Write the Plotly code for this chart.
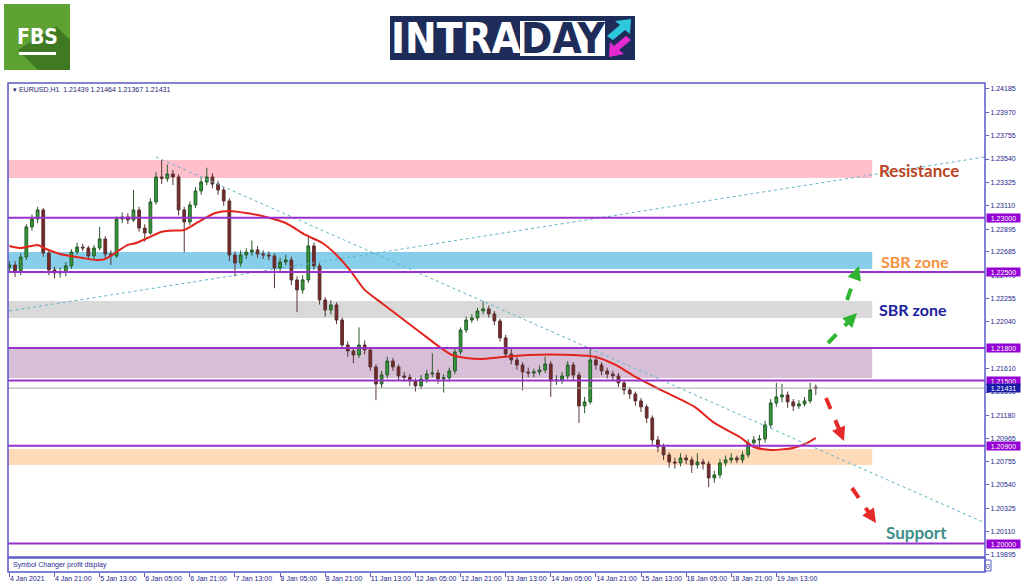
import plotly.graph_objects as go

W, H = 1024, 587


def PX(x):
    return x / W


def PY(y):
    return 1 - y / H


# ---------------- data (EURUSD, 2-hour candles on the hourly bar grid) ----------------
candle_bars = list(range(0, 288, 2))

opens = [1.22540, 1.22565, 1.22509, 1.22638, 1.22915, 1.22988, 1.23071, 1.22675, 1.22519, 1.22491,
         1.22500, 1.22556, 1.22684, 1.22730, 1.22721, 1.22648, 1.22721, 1.22804, 1.22666, 1.22648,
         1.22988, 1.23007, 1.22979, 1.23071, 1.22905, 1.22859, 1.23145, 1.23375, 1.23360, 1.23402,
         1.23375, 1.23071, 1.22961, 1.23117, 1.23246, 1.23329, 1.23375, 1.23310, 1.23255, 1.23154,
         1.22657, 1.22583, 1.22657, 1.22684, 1.22703, 1.22666, 1.22657, 1.22648, 1.22537, 1.22592,
         1.22611, 1.22427, 1.22335, 1.22427, 1.22740, 1.22556, 1.22243, 1.22150, 1.22197, 1.22058,
         1.21828, 1.21773, 1.21736, 1.21828, 1.21782, 1.21626, 1.21469, 1.21552, 1.21681, 1.21626,
         1.21543, 1.21530, 1.21497, 1.21451, 1.21515, 1.21561, 1.21570, 1.21515, 1.21525, 1.21589,
         1.21764, 1.21966, 1.22058, 1.22077, 1.22141, 1.22160, 1.22114, 1.22049, 1.21893, 1.21745,
         1.21690, 1.21644, 1.21580, 1.21570, 1.21580, 1.21598, 1.21653, 1.21497, 1.21506, 1.21543,
         1.21644, 1.21552, 1.21267, 1.21304, 1.21690, 1.21644, 1.21589, 1.21561, 1.21543, 1.21479,
         1.21414, 1.21377, 1.21313, 1.21258, 1.21156, 1.20954, 1.20889, 1.20816, 1.20751, 1.20742,
         1.20788, 1.20770, 1.20724, 1.20751, 1.20733, 1.20604, 1.20632, 1.20742, 1.20770, 1.20788,
         1.20770, 1.20816, 1.20926, 1.20954, 1.20963, 1.21092, 1.21294, 1.21350, 1.21368, 1.21304,
         1.21267, 1.21285, 1.21313, 1.21439]

highs = [1.22600, 1.22600, 1.22670, 1.22940, 1.23030, 1.23100, 1.23090, 1.22700, 1.22550, 1.22540,
         1.22590, 1.22710, 1.22770, 1.22760, 1.22740, 1.22750, 1.22915, 1.22830, 1.22700, 1.23010,
         1.23050, 1.23040, 1.23255, 1.23100, 1.22940, 1.23180, 1.23420, 1.23531, 1.23490, 1.23440,
         1.23400, 1.23100, 1.23150, 1.23280, 1.23370, 1.23460, 1.23410, 1.23340, 1.23280, 1.23180,
         1.22690, 1.22700, 1.22720, 1.22790, 1.22740, 1.22700, 1.22690, 1.22670, 1.22630, 1.22660,
         1.22640, 1.22460, 1.22470, 1.22840, 1.22770, 1.22580, 1.22270, 1.22240, 1.22220, 1.22080,
         1.21860, 1.21810, 1.21990, 1.21870, 1.21800, 1.21650, 1.21590, 1.21720, 1.21710, 1.21650,
         1.21580, 1.21560, 1.21520, 1.21550, 1.21600, 1.21750, 1.21600, 1.21560, 1.21620, 1.21790,
         1.21990, 1.22090, 1.22110, 1.22170, 1.22230, 1.22190, 1.22140, 1.22070, 1.21920, 1.21810,
         1.21720, 1.21670, 1.21620, 1.21610, 1.21640, 1.21720, 1.21680, 1.21550, 1.21580, 1.21680,
         1.21670, 1.21580, 1.21350, 1.21800, 1.21730, 1.21670, 1.21620, 1.21590, 1.21570, 1.21500,
         1.21440, 1.21400, 1.21340, 1.21280, 1.21180, 1.20990, 1.20920, 1.20840, 1.20790, 1.20830,
         1.20820, 1.20800, 1.20830, 1.20780, 1.20760, 1.20670, 1.20780, 1.20810, 1.20830, 1.20810,
         1.20850, 1.20960, 1.20990, 1.21000, 1.21130, 1.21330, 1.21480, 1.21470, 1.21400, 1.21330,
         1.21320, 1.21350, 1.21480, 1.21464]

lows = [1.22500, 1.22454, 1.22470, 1.22610, 1.22880, 1.22950, 1.22640, 1.22470, 1.22440, 1.22450,
        1.22460, 1.22530, 1.22660, 1.22690, 1.22610, 1.22620, 1.22700, 1.22630, 1.22565, 1.22630,
        1.22950, 1.22940, 1.22960, 1.22870, 1.22780, 1.22840, 1.23120, 1.23310, 1.23330, 1.23300,
        1.23020, 1.22680, 1.22930, 1.23090, 1.23210, 1.23300, 1.23270, 1.23210, 1.23110, 1.22600,
        1.22460, 1.22550, 1.22620, 1.22650, 1.22630, 1.22620, 1.22610, 1.22350, 1.22500, 1.22560,
        1.22380, 1.22130, 1.22300, 1.22400, 1.22520, 1.22200, 1.22090, 1.22110, 1.22020, 1.21790,
        1.21720, 1.21660, 1.21710, 1.21740, 1.21590, 1.21320, 1.21430, 1.21520, 1.21590, 1.21500,
        1.21490, 1.21450, 1.21400, 1.21420, 1.21480, 1.21530, 1.21470, 1.21390, 1.21490, 1.21560,
        1.21740, 1.21940, 1.22030, 1.22050, 1.22110, 1.22080, 1.22010, 1.21860, 1.21710, 1.21650,
        1.21600, 1.21410, 1.21530, 1.21530, 1.21550, 1.21570, 1.21350, 1.21460, 1.21470, 1.21510,
        1.21500, 1.21110, 1.21200, 1.21280, 1.21600, 1.21550, 1.21520, 1.21500, 1.21440, 1.21370,
        1.21330, 1.21270, 1.21210, 1.21110, 1.20910, 1.20840, 1.20770, 1.20700, 1.20690, 1.20710,
        1.20730, 1.20650, 1.20690, 1.20680, 1.20520, 1.20560, 1.20600, 1.20710, 1.20740, 1.20740,
        1.20740, 1.20790, 1.20900, 1.20880, 1.20930, 1.21060, 1.21260, 1.21300, 1.21250, 1.21220,
        1.21240, 1.21260, 1.21290, 1.21367]

closes = [1.22565, 1.22509, 1.22638, 1.22915, 1.22988, 1.23071, 1.22675, 1.22519, 1.22491, 1.22500,
          1.22556, 1.22684, 1.22730, 1.22721, 1.22648, 1.22721, 1.22804, 1.22666, 1.22648, 1.22988,
          1.23007, 1.22979, 1.23071, 1.22905, 1.22859, 1.23145, 1.23375, 1.23360, 1.23402, 1.23375,
          1.23071, 1.22961, 1.23117, 1.23246, 1.23329, 1.23375, 1.23310, 1.23255, 1.23154, 1.22657,
          1.22583, 1.22657, 1.22684, 1.22703, 1.22666, 1.22657, 1.22648, 1.22537, 1.22592, 1.22611,
          1.22427, 1.22335, 1.22427, 1.22740, 1.22556, 1.22243, 1.22150, 1.22197, 1.22058, 1.21828,
          1.21773, 1.21736, 1.21828, 1.21782, 1.21626, 1.21469, 1.21552, 1.21681, 1.21626, 1.21543,
          1.21530, 1.21497, 1.21451, 1.21515, 1.21561, 1.21570, 1.21515, 1.21525, 1.21589, 1.21764,
          1.21966, 1.22058, 1.22077, 1.22141, 1.22160, 1.22114, 1.22049, 1.21893, 1.21745, 1.21690,
          1.21644, 1.21580, 1.21570, 1.21580, 1.21598, 1.21653, 1.21497, 1.21506, 1.21543, 1.21644,
          1.21552, 1.21267, 1.21304, 1.21690, 1.21644, 1.21589, 1.21561, 1.21543, 1.21479, 1.21414,
          1.21377, 1.21313, 1.21258, 1.21156, 1.20954, 1.20889, 1.20816, 1.20751, 1.20742, 1.20788,
          1.20770, 1.20724, 1.20751, 1.20733, 1.20604, 1.20632, 1.20742, 1.20770, 1.20788, 1.20770,
          1.20816, 1.20926, 1.20954, 1.20963, 1.21092, 1.21294, 1.21350, 1.21368, 1.21304, 1.21267,
          1.21285, 1.21313, 1.21414, 1.21431]

# moving average
ma_bars = [0, 4, 10, 13, 18, 26, 31, 34, 38, 42, 45, 49, 54, 57, 62, 67, 73, 78, 84, 91, 98, 105,
           111, 116, 121, 126, 132, 139, 146, 153, 157, 162, 167, 175, 184, 200, 208, 215, 222, 231,
           243, 250, 259, 264, 270, 278, 283, 286]
ma_values = [1.22740, 1.22721, 1.22749, 1.22712, 1.22666, 1.22629, 1.22611, 1.22620, 1.22684, 1.22749,
             1.22767, 1.22813, 1.22870, 1.22880, 1.22887, 1.22961, 1.23043, 1.23062, 1.23043, 1.23007,
             1.22951, 1.22841, 1.22767, 1.22657, 1.22510, 1.22335, 1.22215, 1.22077, 1.21939, 1.21801,
             1.21736, 1.21709, 1.21699, 1.21718, 1.21736, 1.21736, 1.21718, 1.21644, 1.21534, 1.21414,
             1.21258, 1.21111, 1.20981, 1.20889, 1.20862, 1.20880, 1.20926, 1.20972]

# x-axis labels (every 16 hourly bars)
tick_bars = [0, 16, 32, 48, 64, 80, 96, 112, 128, 144, 160, 176, 192, 208, 224, 240, 256, 272]
tick_labels = ["4 Jan 2021", "4 Jan 21:00", "5 Jan 13:00", "6 Jan 05:00", "6 Jan 21:00",
               "7 Jan 13:00", "8 Jan 05:00", "8 Jan 21:00", "11 Jan 13:00", "12 Jan 05:00",
               "12 Jan 21:00", "13 Jan 13:00", "14 Jan 05:00", "14 Jan 21:00", "15 Jan 13:00",
               "18 Jan 05:00", "18 Jan 21:00", "19 Jan 13:00"]

# price scale labels (1.21825 sits fully under the 1.21800 box in the reference)
price_ticks = [1.24185, 1.23970, 1.23755, 1.23540, 1.23325, 1.23110, 1.22895, 1.22685, 1.22470,
               1.22255, 1.22040, 1.21610, 1.21395, 1.21180, 1.20965, 1.20755, 1.20540,
               1.20325, 1.20110, 1.19895]

# horizontal levels and zones
levels = [1.23000, 1.22500, 1.21800, 1.21500, 1.20900, 1.20000]
last_price = 1.21431
zone_lows = [1.23366, 1.22528, 1.22077, 1.21524, 1.20724]
zone_highs = [1.23531, 1.22684, 1.22233, 1.21801, 1.20871]
zone_end_bar = 306

# trend lines (bar, price)
trend_up_bars = [0, 346]
trend_up_prices = [1.22141, 1.23559]
trend_down_bars = [52, 346]
trend_down_prices = [1.23559, 1.20190]

# ---------------- styling ----------------
zone_colors = ["#ffc0cb", "#87ceeb", "#d9d9d9", "#d8bfd8", "#ffdab9"]
LEVEL_COLOR = "#9932cc"
FRAME = "#5a5ac8"
AXIS_TXT = "#25258a"
SMALL = "Liberation Sans, Arial, sans-serif"
XR = [-0.5, 346]
YR = [1.19876, 1.24240]

fig = go.Figure()

fig.add_trace(go.Candlestick(
    x=candle_bars, open=opens, high=highs, low=lows, close=closes,
    xaxis="x", yaxis="y",
    increasing=dict(line=dict(color="#2c5a2c", width=1), fillcolor="#2e9e35"),
    decreasing=dict(line=dict(color="#5a3535", width=1), fillcolor="#7a2525"),
    whiskerwidth=0, showlegend=False, hoverinfo="skip"))

fig.add_trace(go.Scatter(
    x=ma_bars, y=ma_values, mode="lines", xaxis="x", yaxis="y",
    line=dict(color="#e3241d", width=2, shape="spline", smoothing=0.7),
    showlegend=False, hoverinfo="skip"))

# invisible trace for the lower indicator pane
fig.add_trace(go.Scatter(x=[XR[0]], y=[0.5], xaxis="x2", yaxis="y2", mode="markers",
                         marker=dict(opacity=0), showlegend=False, hoverinfo="skip"))

shapes = []
annotations = []

# zones
for lo, hi, col in zip(zone_lows, zone_highs, zone_colors):
    shapes.append(dict(type="rect", xref="x", yref="y", x0=XR[0], x1=zone_end_bar, y0=lo, y1=hi,
                       fillcolor=col, line=dict(width=0), layer="below"))

# trend lines
shapes.append(dict(type="line", xref="x", yref="y", x0=trend_up_bars[0], x1=trend_up_bars[1],
                   y0=trend_up_prices[0], y1=trend_up_prices[1],
                   line=dict(color="#5fb3c8", width=1, dash="dot"), layer="above"))
shapes.append(dict(type="line", xref="x", yref="y", x0=trend_down_bars[0], x1=trend_down_bars[1],
                   y0=trend_down_prices[0], y1=trend_down_prices[1],
                   line=dict(color="#5fb3c8", width=1, dash="dot"), layer="above"))

# current price line
shapes.append(dict(type="line", xref="paper", yref="y", x0=PX(8), x1=PX(985), y0=last_price,
                   y1=last_price, line=dict(color="#a8a8a8", width=1), layer="above"))
# levels
for lv in levels:
    shapes.append(dict(type="line", xref="paper", yref="y", x0=PX(8), x1=PX(985), y0=lv, y1=lv,
                       line=dict(color=LEVEL_COLOR, width=2), layer="above"))

# frames
shapes.append(dict(type="rect", xref="paper", yref="paper", x0=PX(8), x1=PX(985), y0=PY(557),
                   y1=PY(83), line=dict(color=FRAME, width=1.5)))
shapes.append(dict(type="rect", xref="paper", yref="paper", x0=PX(8), x1=PX(985), y0=PY(572),
                   y1=PY(558), line=dict(color=FRAME, width=1.5)))
shapes.append(dict(type="rect", xref="paper", yref="paper", x0=PX(985), x1=PX(991), y0=PY(571),
                   y1=PY(560), line=dict(color=FRAME, width=1)))

# price boxes
for lv in levels:
    annotations.append(dict(xref="paper", yref="y", x=PX(986), y=lv, xanchor="left",
                            yanchor="middle", text=f"{lv:.5f}", showarrow=False,
                            font=dict(size=7, color="white", family=SMALL),
                            bgcolor="#9400d3", width=33, height=8, borderpad=0))
annotations.append(dict(xref="paper", yref="y", x=PX(986), y=last_price, xanchor="left",
                        yanchor="middle", text=f"{last_price:.5f}", showarrow=False,
                        font=dict(size=7, color="white", family=SMALL),
                        bgcolor="#1a1aa8", width=33, height=8, borderpad=0))

# header text
annotations.append(dict(xref="paper", yref="paper", x=PX(11), y=PY(89), xanchor="left",
                        yanchor="middle", showarrow=False,
                        text="▾ EURUSD,H1  1.21439 1.21464 1.21367 1.21431",
                        font=dict(size=7, color="#1c1c70", family=SMALL)))
annotations.append(dict(xref="paper", yref="paper", x=PX(11), y=PY(565), xanchor="left",
                        yanchor="middle", showarrow=False, text="Symbol Changer profit display",
                        font=dict(size=7, color="#2a2a90", family=SMALL)))
annotations.append(dict(xref="paper", yref="paper", x=PX(988), y=PY(566), xanchor="center",
                        yanchor="middle", showarrow=False, text="0",
                        font=dict(size=7, color="#2a2a90", family=SMALL)))

# zone labels
LBL = "Lato, Open Sans, sans-serif"
for txt, x, y, col, sz in [("Resistance", 877, 170, "#b9461f", 17),
                           ("SBR zone", 879, 261, "#f7913d", 16),
                           ("SBR zone", 877, 309, "#1c1c9e", 16),
                           ("Support", 884, 532, "#3f8f8a", 17)]:
    annotations.append(dict(xref="paper", yref="paper", x=PX(x), y=PY(y), xanchor="left",
                            yanchor="middle", showarrow=False, text=f"<b>{txt}</b>",
                            font=dict(size=sz, color=col, family=LBL)))

# dashed arrows
for (tx, ty, hx, hy, col) in [(847, 300, 859, 266, "#2fb52f"),
                              (828, 343, 857, 313, "#2fb52f"),
                              (826, 398, 844, 441, "#e52a2a"),
                              (852, 488, 876, 523, "#e52a2a")]:
    dx, dy = hx - tx, hy - ty
    L = (dx * dx + dy * dy) ** 0.5
    ux, uy = dx / L, dy / L
    ex, ey = hx - ux * 6, hy - uy * 6
    shapes.append(dict(type="line", xref="paper", yref="paper", x0=PX(tx), y0=PY(ty),
                       x1=PX(ex), y1=PY(ey), line=dict(color=col, width=4, dash="dash")))
    annotations.append(dict(xref="paper", yref="paper", x=PX(hx), y=PY(hy),
                            ax=-ux * 8, ay=-uy * 8, axref="pixel", ayref="pixel",
                            text="", showarrow=True, arrowhead=2, arrowsize=0.8,
                            arrowwidth=3.5, arrowcolor=col, standoff=0))

# ---------- logos ----------
# FBS
shapes.append(dict(type="rect", xref="paper", yref="paper", x0=PX(4), x1=PX(70), y0=PY(70),
                   y1=PY(4), fillcolor="#5fa234", line=dict(width=0)))
shapes.append(dict(type="path", xref="paper", yref="paper",
                   path=f"M {PX(18)},{PY(50)} L {PX(56)},{PY(26)} L {PX(70)},{PY(40)} "
                        f"L {PX(70)},{PY(70)} L {PX(38)},{PY(70)} Z",
                   fillcolor="#3f7a22", line=dict(width=0)))
shapes.append(dict(type="rect", xref="paper", yref="paper", x0=PX(19), x1=PX(56), y0=PY(55),
                   y1=PY(52), fillcolor="white", line=dict(width=0)))
annotations.append(dict(xref="paper", yref="paper", x=PX(37), y=PY(37), xanchor="center",
                        yanchor="middle", showarrow=False, text="<b>FBS</b>",
                        font=dict(size=21, color="white",
                                  family="Liberation Sans Narrow, DejaVu Sans Condensed, sans-serif")))
# INTRADAY
shapes.append(dict(type="rect", xref="paper", yref="paper", x0=PX(390), x1=PX(635), y0=PY(60),
                   y1=PY(16), fillcolor="#1e2c5a", line=dict(width=0)))
shapes.append(dict(type="rect", xref="paper", yref="paper", x0=PX(520), x1=PX(605), y0=PY(56),
                   y1=PY(21), fillcolor="white", line=dict(width=0)))
NARROW = "Liberation Sans Narrow, DejaVu Sans Condensed, sans-serif"
annotations.append(dict(xref="paper", yref="paper", x=PX(456), y=PY(39), xanchor="center",
                        yanchor="middle", showarrow=False, text="<b>INTRA</b>",
                        font=dict(size=42, color="white", family=NARROW)))
annotations.append(dict(xref="paper", yref="paper", x=PX(563), y=PY(39), xanchor="center",
                        yanchor="middle", showarrow=False, text="<b>DAY</b>",
                        font=dict(size=42, color="#1e2c5a", family=NARROW)))
# logo arrows
shapes.append(dict(type="path", xref="paper", yref="paper",
                   path=f"M {PX(607)},{PY(36)} L {PX(620)},{PY(25)} L {PX(615)},{PY(21)} "
                        f"L {PX(631)},{PY(19)} L {PX(630)},{PY(34)} L {PX(625)},{PY(30)} "
                        f"L {PX(613)},{PY(40)} Z",
                   fillcolor="#2ec8dc", line=dict(width=0)))
shapes.append(dict(type="path", xref="paper", yref="paper",
                   path=f"M {PX(631)},{PY(40)} L {PX(619)},{PY(50)} L {PX(624)},{PY(54)} "
                        f"L {PX(609)},{PY(57)} L {PX(610)},{PY(42)} L {PX(614)},{PY(46)} "
                        f"L {PX(626)},{PY(36)} Z",
                   fillcolor="#e62ad2", line=dict(width=0)))

fig.update_layout(
    width=W, height=H, margin=dict(l=0, r=0, t=0, b=0, autoexpand=False),
    paper_bgcolor="white", plot_bgcolor="white",
    showlegend=False, hovermode=False,
    xaxis=dict(domain=[PX(8), PX(985)], range=XR, anchor="y", showgrid=False, zeroline=False,
               showticklabels=False, ticks="", rangeslider=dict(visible=False), fixedrange=True,
               automargin=False),
    yaxis=dict(domain=[PY(557), PY(83)], range=YR, side="right", anchor="x",
               tickvals=price_ticks, ticktext=[f"{v:.5f}" for v in price_ticks],
               ticks="outside", ticklen=3, tickcolor=FRAME,
               tickfont=dict(size=7, color=AXIS_TXT, family=SMALL),
               showgrid=False, zeroline=False, showline=False, fixedrange=True,
               automargin=False),
    xaxis2=dict(domain=[PX(8), PX(985)], matches="x", anchor="y2", showgrid=False, zeroline=False,
                tickvals=tick_bars, ticktext=tick_labels, ticks="outside", ticklen=4,
                tickcolor=FRAME, ticklabelposition="outside right", tickangle=0,
                tickfont=dict(size=7, color=AXIS_TXT, family=SMALL), fixedrange=True,
                automargin=False),
    yaxis2=dict(domain=[PY(572), PY(558)], range=[0, 1], anchor="x2", showgrid=False,
                zeroline=False, showticklabels=False, ticks="", fixedrange=True,
                automargin=False),
    shapes=shapes, annotations=annotations,
)

fig.write_html("out.html", config=dict(displayModeBar=False),
               post_script="document.body.style.margin='0';")
